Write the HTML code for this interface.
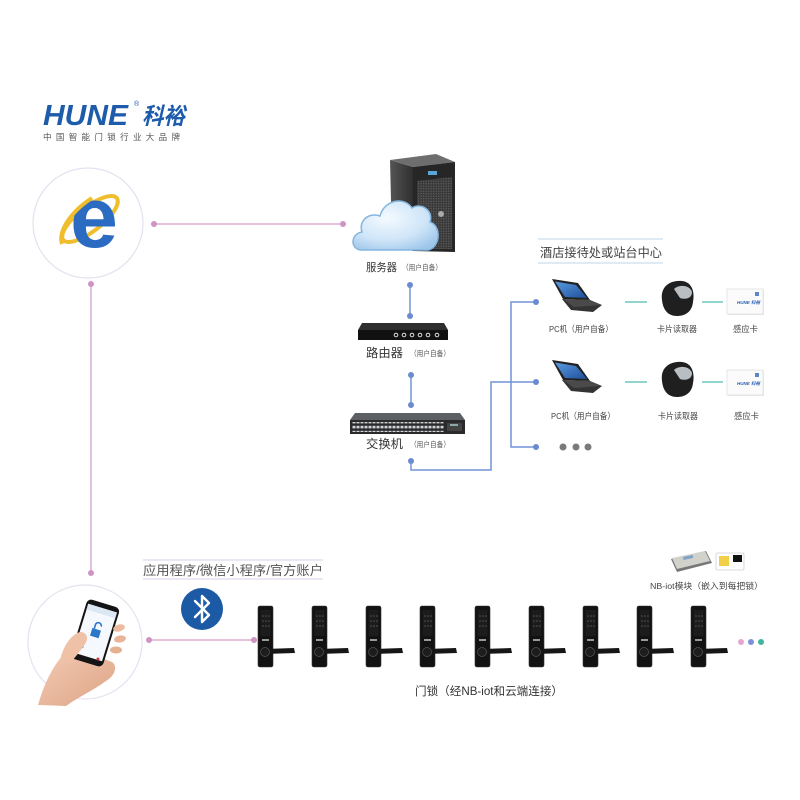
<!DOCTYPE html>
<html><head><meta charset="utf-8">
<style>
html,body{margin:0;padding:0;background:#fff;}
svg{display:block;}
text{font-family:"Liberation Sans","Noto Sans CJK SC",sans-serif;}
</style></head><body>
<svg width="800" height="800" viewBox="0 0 800 800" xmlns="http://www.w3.org/2000/svg">
<defs>
  <radialGradient id="cloudG" cx="0.4" cy="0.35" r="0.75">
    <stop offset="0" stop-color="#f4faff"/>
    <stop offset="0.6" stop-color="#cfe5f8"/>
    <stop offset="1" stop-color="#9cc6ea"/>
  </radialGradient>
  <linearGradient id="sideG" x1="0" y1="0" x2="1" y2="0">
    <stop offset="0" stop-color="#555"/>
    <stop offset="1" stop-color="#2f2f2f"/>
  </linearGradient>
  <linearGradient id="scrG" x1="0" y1="0" x2="1" y2="1">
    <stop offset="0" stop-color="#5a9be0"/>
    <stop offset="1" stop-color="#1e4f9a"/>
  </linearGradient>
  <pattern id="mesh" width="2.5" height="2.5" patternUnits="userSpaceOnUse">
    <rect width="2.5" height="2.5" fill="#3a3a3a"/>
    <circle cx="1.2" cy="1.2" r="0.6" fill="#666"/>
  </pattern>
  <pattern id="ports" width="4" height="5" patternUnits="userSpaceOnUse">
    <rect width="4" height="5" fill="#2a2a2a"/>
    <rect x="0.5" y="0.8" width="3" height="2.6" fill="#cfd3d8"/>
  </pattern>
  <linearGradient id="skin" x1="0" y1="0" x2="1" y2="1">
    <stop offset="0" stop-color="#f3cbb4"/>
    <stop offset="1" stop-color="#dea486"/>
  </linearGradient>
</defs>
<rect width="800" height="800" fill="#fff"/>

<!-- Logo -->
<text x="43" y="125" font-size="29" font-weight="bold" font-style="italic" fill="#1d5bab" textLength="85" lengthAdjust="spacingAndGlyphs">HUNE</text>
<text x="134" y="106" font-size="7" fill="#1d5bab">®</text>
<text x="142" y="124" font-size="23" font-weight="bold" font-style="italic" fill="#1d5bab" textLength="43" lengthAdjust="spacingAndGlyphs">科裕</text>
<text x="43" y="140" font-size="8.5" fill="#555" textLength="137" lengthAdjust="spacing">中国智能门锁行业大品牌</text>

<!-- IE circle -->
<circle cx="88" cy="223" r="55" fill="none" stroke="#e4e1ee" stroke-width="1.2"/>
<ellipse cx="90" cy="219" rx="34" ry="12" transform="rotate(-38 90 219)" fill="none" stroke="#f0be2c" stroke-width="4"/>
<text x="94" y="247" font-size="86" font-weight="bold" fill="#2b6cc2" text-anchor="middle">e</text>
<path d="M62,244 C58,232 70,212 92,198" fill="none" stroke="#f0be2c" stroke-width="4"/>

<!-- pink connectors -->
<g stroke="#dcaed3" stroke-width="1.5" fill="none">
  <line x1="154" y1="224" x2="343" y2="224"/>
  <line x1="91" y1="284" x2="91" y2="573"/>
  <line x1="149" y1="640" x2="254" y2="640"/>
</g>
<g fill="#cf94c4">
  <circle cx="154" cy="224" r="3"/><circle cx="343" cy="224" r="3"/>
  <circle cx="91" cy="284" r="3"/><circle cx="91" cy="573" r="3"/>
  <circle cx="149" cy="640" r="3"/><circle cx="254" cy="640" r="3"/>
</g>

<!-- Server tower -->
<polygon points="390,160 413,167 413,251 392,242" fill="url(#sideG)"/>
<polygon points="390,160 436,154 455,162 413,167" fill="#6e6e6e"/>
<polygon points="413,167 455,162 455,252 413,251" fill="#262626"/>
<polygon points="417,181 452,177 452,249 417,249" fill="url(#mesh)"/>
<rect x="428" y="171" width="9" height="4" fill="#5aa6d8"/>
<circle cx="441" cy="214" r="3" fill="#aaa"/>
<!-- Cloud -->
<path d="M362,250 C350,250 350,234 362,232 C358,220 370,212 380,216 C384,200 404,196 412,208 C420,202 434,210 430,222 C442,226 440,248 428,250 Z" fill="url(#cloudG)" stroke="#86b5df" stroke-width="1.5"/>
<text x="366" y="271" font-size="11" fill="#333" textLength="31" lengthAdjust="spacingAndGlyphs">服务器</text>
<text x="402" y="270" font-size="7.5" fill="#555" textLength="40" lengthAdjust="spacingAndGlyphs">（用户自备）</text>

<!-- blue connectors -->
<g stroke="#7094d8" stroke-width="1.5" fill="none">
  <line x1="410" y1="285" x2="410" y2="316"/>
  <line x1="411" y1="375" x2="411" y2="405"/>
  <path d="M411,461 V470 H491 V382 H536"/>
  <path d="M536,302 H511 V447 H536"/>
</g>
<g fill="#6a8ad2">
  <circle cx="410" cy="285" r="3"/><circle cx="410" cy="316" r="3"/>
  <circle cx="411" cy="375" r="3"/><circle cx="411" cy="405" r="3"/>
  <circle cx="411" cy="461" r="3"/>
  <circle cx="536" cy="302" r="3"/><circle cx="536" cy="382" r="3"/><circle cx="536" cy="447" r="3"/>
</g>

<!-- Router -->
<polygon points="362,323 444,323 448,330 358,330" fill="#2e2e2e"/>
<rect x="358" y="330" width="90" height="10" fill="#111"/>
<g fill="none" stroke="#ddd" stroke-width="1">
  <circle cx="396" cy="335" r="1.8"/><circle cx="404" cy="335" r="1.8"/><circle cx="412" cy="335" r="1.8"/>
  <circle cx="420" cy="335" r="1.8"/><circle cx="428" cy="335" r="1.8"/><circle cx="437" cy="335" r="1.8"/>
</g>
<text x="366" y="357" font-size="12" fill="#333" textLength="37" lengthAdjust="spacingAndGlyphs">路由器</text>
<text x="410" y="356" font-size="7.5" fill="#555" textLength="40" lengthAdjust="spacingAndGlyphs">（用户自备）</text>

<!-- Switch -->
<polygon points="355,413 460,413 465,420 350,420" fill="#5c5f63"/>
<rect x="350" y="420" width="115" height="14" fill="#2a2a2a"/>
<rect x="352" y="422" width="92" height="10" fill="url(#ports)"/>
<rect x="447" y="423" width="15" height="8" fill="#444"/>
<rect x="450" y="424" width="8" height="2" fill="#8aa"/>
<text x="366" y="448" font-size="12" fill="#333" textLength="37" lengthAdjust="spacingAndGlyphs">交换机</text>
<text x="410" y="447" font-size="7.5" fill="#555" textLength="40" lengthAdjust="spacingAndGlyphs">（用户自备）</text>

<!-- Hotel header -->
<line x1="538" y1="239" x2="663" y2="239" stroke="#bcd5e8" stroke-width="1"/>
<line x1="538" y1="263" x2="663" y2="263" stroke="#bcd5e8" stroke-width="1"/>
<text x="540" y="257" font-size="12.5" fill="#444" textLength="122" lengthAdjust="spacingAndGlyphs">酒店接待处或站台中心</text>

<!-- Row 1 -->
<g>
  <polygon points="552,279 578,283 590,300 563,299" fill="#222"/>
  <polygon points="555,281.5 576,285 587,298 565,297" fill="url(#scrG)"/>
  <polygon points="562,299 590,300 602,305 593,312 571,310" fill="#333"/>
  <polygon points="563,299 590,300 601,305 574,307" fill="#4a4a4a"/>
  <path d="M662,300 C660,285 672,280 682,281 C692,282 695,292 693,302 C692,312 685,316 677,316 C668,316 663,310 662,300 Z" fill="#1f1f1f"/>
  <path d="M674,289 C679,284 690,285 692,292 C692,298 686,300 680,298 Z" fill="#b9bec3"/>
  <rect x="728" y="290" width="36" height="25" fill="#e8e8e8"/>
  <rect x="727" y="289" width="36" height="25" fill="#fbfbfb" stroke="#e2e2e2" stroke-width="0.8"/>
  <text x="737" y="304" font-size="4.5" font-weight="bold" font-style="italic" fill="#2a5fb0">HUNE 科裕</text>
  <rect x="755" y="292" width="4" height="4" fill="#5b86c8"/>
</g>
<g transform="translate(0,81)">
  <polygon points="552,279 578,283 590,300 563,299" fill="#222"/>
  <polygon points="555,281.5 576,285 587,298 565,297" fill="url(#scrG)"/>
  <polygon points="562,299 590,300 602,305 593,312 571,310" fill="#333"/>
  <polygon points="563,299 590,300 601,305 574,307" fill="#4a4a4a"/>
  <path d="M662,300 C660,285 672,280 682,281 C692,282 695,292 693,302 C692,312 685,316 677,316 C668,316 663,310 662,300 Z" fill="#1f1f1f"/>
  <path d="M674,289 C679,284 690,285 692,292 C692,298 686,300 680,298 Z" fill="#b9bec3"/>
  <rect x="728" y="290" width="36" height="25" fill="#e8e8e8"/>
  <rect x="727" y="289" width="36" height="25" fill="#fbfbfb" stroke="#e2e2e2" stroke-width="0.8"/>
  <text x="737" y="304" font-size="4.5" font-weight="bold" font-style="italic" fill="#2a5fb0">HUNE 科裕</text>
  <rect x="755" y="292" width="4" height="4" fill="#5b86c8"/>
</g>
<g stroke="#6cc8bd" stroke-width="1.5">
  <line x1="625" y1="302" x2="647" y2="302"/><line x1="702" y1="302" x2="723" y2="302"/>
  <line x1="625" y1="382" x2="647" y2="382"/><line x1="702" y1="382" x2="723" y2="382"/>
</g>
<g font-size="8.5" fill="#444">
  <text x="549" y="332" textLength="64" lengthAdjust="spacingAndGlyphs">PC机（用户自备）</text>
  <text x="657" y="332" textLength="40" lengthAdjust="spacingAndGlyphs">卡片读取器</text>
  <text x="733" y="332" textLength="25" lengthAdjust="spacingAndGlyphs">感应卡</text>
  <text x="551" y="419" textLength="64" lengthAdjust="spacingAndGlyphs">PC机（用户自备）</text>
  <text x="658" y="419" textLength="40" lengthAdjust="spacingAndGlyphs">卡片读取器</text>
  <text x="734" y="419" textLength="25" lengthAdjust="spacingAndGlyphs">感应卡</text>
</g>
<g fill="#7a7a7a">
  <circle cx="563" cy="447" r="3.5"/><circle cx="576" cy="447" r="3.5"/><circle cx="588" cy="447" r="3.5"/>
</g>

<!-- App label -->
<line x1="143" y1="560" x2="323" y2="560" stroke="#d9cfe6" stroke-width="1"/>
<line x1="143" y1="579" x2="323" y2="579" stroke="#d9cfe6" stroke-width="1"/>
<text x="143" y="575" font-size="13" fill="#555" textLength="180" lengthAdjust="spacingAndGlyphs">应用程序/微信小程序/官方账户</text>

<!-- Bluetooth -->
<circle cx="202" cy="609" r="21" fill="#1c5aa5"/>
<path d="M195,601 L209,615 L202,622 L202,596 L209,603 L195,617" fill="none" stroke="#fff" stroke-width="2.4" stroke-linejoin="round" stroke-linecap="round"/>

<!-- Phone circle and hand -->
<circle cx="85" cy="642" r="57" fill="none" stroke="#e6e1ef" stroke-width="1.2"/>
<path d="M38,705 C44,684 52,668 62,656 C70,646 82,648 94,655 L112,662 C118,666 115,676 106,681 C94,690 80,696 66,706 Z" fill="url(#skin)"/>
<g transform="translate(95,633) rotate(17)">
  <rect x="-17" y="-31" width="34" height="62" rx="5" fill="#141414"/>
  <rect x="-15" y="-26" width="30" height="51" fill="#f5f8fc"/>
  <rect x="-15" y="-26" width="30" height="6" fill="#dce7f4"/>
  <rect x="-4" y="-4" width="9" height="8" fill="#2b78c8"/>
  <path d="M-2,-4 V-8 A3,3 0 0 1 4,-8" fill="none" stroke="#2b78c8" stroke-width="1.6"/>
  <rect x="-12" y="14" width="5" height="4" fill="#2b78c8"/>
</g>
<ellipse cx="119" cy="628" rx="6" ry="3.5" fill="#ecbba0" transform="rotate(-15 119 628)"/>
<ellipse cx="120" cy="639" rx="6" ry="3.5" fill="#e9b598" transform="rotate(-10 120 639)"/>
<ellipse cx="116" cy="650" rx="6" ry="3.5" fill="#e6b092"/>
<path d="M60,660 C64,644 72,634 80,632 C87,632 89,638 85,644 C80,652 74,658 70,664 Z" fill="#efc2a8"/>
<circle cx="98" cy="659" r="1.5" fill="#d23a3a"/>

<!-- Locks -->
<g id="locks">
<g transform="translate(258,606)">
  <rect x="0" y="0" width="15" height="61" rx="2" fill="#121212" stroke="#333" stroke-width="0.6"/>
  <rect x="2.5" y="4" width="10" height="26" fill="#1c1c1c"/>
  <g fill="#555"><circle cx="5" cy="10" r="0.8"/><circle cx="8" cy="10" r="0.8"/><circle cx="11" cy="10" r="0.8"/><circle cx="5" cy="15" r="0.8"/><circle cx="8" cy="15" r="0.8"/><circle cx="11" cy="15" r="0.8"/><circle cx="5" cy="20" r="0.8"/><circle cx="8" cy="20" r="0.8"/><circle cx="11" cy="20" r="0.8"/></g>
  <rect x="4" y="33" width="7" height="2" fill="#999"/>
  <path d="M7,43 L36,42 L37,47 L7,48 Z" fill="#161616"/>
  <circle cx="7" cy="46" r="4.5" fill="#1d1d1d" stroke="#555" stroke-width="0.7"/>
</g>
<g transform="translate(312,606)">
  <rect x="0" y="0" width="15" height="61" rx="2" fill="#121212" stroke="#333" stroke-width="0.6"/>
  <rect x="2.5" y="4" width="10" height="26" fill="#1c1c1c"/>
  <g fill="#555"><circle cx="5" cy="10" r="0.8"/><circle cx="8" cy="10" r="0.8"/><circle cx="11" cy="10" r="0.8"/><circle cx="5" cy="15" r="0.8"/><circle cx="8" cy="15" r="0.8"/><circle cx="11" cy="15" r="0.8"/><circle cx="5" cy="20" r="0.8"/><circle cx="8" cy="20" r="0.8"/><circle cx="11" cy="20" r="0.8"/></g>
  <rect x="4" y="33" width="7" height="2" fill="#999"/>
  <path d="M7,43 L36,42 L37,47 L7,48 Z" fill="#161616"/>
  <circle cx="7" cy="46" r="4.5" fill="#1d1d1d" stroke="#555" stroke-width="0.7"/>
</g>
<g transform="translate(366,606)">
  <rect x="0" y="0" width="15" height="61" rx="2" fill="#121212" stroke="#333" stroke-width="0.6"/>
  <rect x="2.5" y="4" width="10" height="26" fill="#1c1c1c"/>
  <g fill="#555"><circle cx="5" cy="10" r="0.8"/><circle cx="8" cy="10" r="0.8"/><circle cx="11" cy="10" r="0.8"/><circle cx="5" cy="15" r="0.8"/><circle cx="8" cy="15" r="0.8"/><circle cx="11" cy="15" r="0.8"/><circle cx="5" cy="20" r="0.8"/><circle cx="8" cy="20" r="0.8"/><circle cx="11" cy="20" r="0.8"/></g>
  <rect x="4" y="33" width="7" height="2" fill="#999"/>
  <path d="M7,43 L36,42 L37,47 L7,48 Z" fill="#161616"/>
  <circle cx="7" cy="46" r="4.5" fill="#1d1d1d" stroke="#555" stroke-width="0.7"/>
</g>
<g transform="translate(420,606)">
  <rect x="0" y="0" width="15" height="61" rx="2" fill="#121212" stroke="#333" stroke-width="0.6"/>
  <rect x="2.5" y="4" width="10" height="26" fill="#1c1c1c"/>
  <g fill="#555"><circle cx="5" cy="10" r="0.8"/><circle cx="8" cy="10" r="0.8"/><circle cx="11" cy="10" r="0.8"/><circle cx="5" cy="15" r="0.8"/><circle cx="8" cy="15" r="0.8"/><circle cx="11" cy="15" r="0.8"/><circle cx="5" cy="20" r="0.8"/><circle cx="8" cy="20" r="0.8"/><circle cx="11" cy="20" r="0.8"/></g>
  <rect x="4" y="33" width="7" height="2" fill="#999"/>
  <path d="M7,43 L36,42 L37,47 L7,48 Z" fill="#161616"/>
  <circle cx="7" cy="46" r="4.5" fill="#1d1d1d" stroke="#555" stroke-width="0.7"/>
</g>
<g transform="translate(475,606)">
  <rect x="0" y="0" width="15" height="61" rx="2" fill="#121212" stroke="#333" stroke-width="0.6"/>
  <rect x="2.5" y="4" width="10" height="26" fill="#1c1c1c"/>
  <g fill="#555"><circle cx="5" cy="10" r="0.8"/><circle cx="8" cy="10" r="0.8"/><circle cx="11" cy="10" r="0.8"/><circle cx="5" cy="15" r="0.8"/><circle cx="8" cy="15" r="0.8"/><circle cx="11" cy="15" r="0.8"/><circle cx="5" cy="20" r="0.8"/><circle cx="8" cy="20" r="0.8"/><circle cx="11" cy="20" r="0.8"/></g>
  <rect x="4" y="33" width="7" height="2" fill="#999"/>
  <path d="M7,43 L36,42 L37,47 L7,48 Z" fill="#161616"/>
  <circle cx="7" cy="46" r="4.5" fill="#1d1d1d" stroke="#555" stroke-width="0.7"/>
</g>
<g transform="translate(529,606)">
  <rect x="0" y="0" width="15" height="61" rx="2" fill="#121212" stroke="#333" stroke-width="0.6"/>
  <rect x="2.5" y="4" width="10" height="26" fill="#1c1c1c"/>
  <g fill="#555"><circle cx="5" cy="10" r="0.8"/><circle cx="8" cy="10" r="0.8"/><circle cx="11" cy="10" r="0.8"/><circle cx="5" cy="15" r="0.8"/><circle cx="8" cy="15" r="0.8"/><circle cx="11" cy="15" r="0.8"/><circle cx="5" cy="20" r="0.8"/><circle cx="8" cy="20" r="0.8"/><circle cx="11" cy="20" r="0.8"/></g>
  <rect x="4" y="33" width="7" height="2" fill="#999"/>
  <path d="M7,43 L36,42 L37,47 L7,48 Z" fill="#161616"/>
  <circle cx="7" cy="46" r="4.5" fill="#1d1d1d" stroke="#555" stroke-width="0.7"/>
</g>
<g transform="translate(583,606)">
  <rect x="0" y="0" width="15" height="61" rx="2" fill="#121212" stroke="#333" stroke-width="0.6"/>
  <rect x="2.5" y="4" width="10" height="26" fill="#1c1c1c"/>
  <g fill="#555"><circle cx="5" cy="10" r="0.8"/><circle cx="8" cy="10" r="0.8"/><circle cx="11" cy="10" r="0.8"/><circle cx="5" cy="15" r="0.8"/><circle cx="8" cy="15" r="0.8"/><circle cx="11" cy="15" r="0.8"/><circle cx="5" cy="20" r="0.8"/><circle cx="8" cy="20" r="0.8"/><circle cx="11" cy="20" r="0.8"/></g>
  <rect x="4" y="33" width="7" height="2" fill="#999"/>
  <path d="M7,43 L36,42 L37,47 L7,48 Z" fill="#161616"/>
  <circle cx="7" cy="46" r="4.5" fill="#1d1d1d" stroke="#555" stroke-width="0.7"/>
</g>
<g transform="translate(637,606)">
  <rect x="0" y="0" width="15" height="61" rx="2" fill="#121212" stroke="#333" stroke-width="0.6"/>
  <rect x="2.5" y="4" width="10" height="26" fill="#1c1c1c"/>
  <g fill="#555"><circle cx="5" cy="10" r="0.8"/><circle cx="8" cy="10" r="0.8"/><circle cx="11" cy="10" r="0.8"/><circle cx="5" cy="15" r="0.8"/><circle cx="8" cy="15" r="0.8"/><circle cx="11" cy="15" r="0.8"/><circle cx="5" cy="20" r="0.8"/><circle cx="8" cy="20" r="0.8"/><circle cx="11" cy="20" r="0.8"/></g>
  <rect x="4" y="33" width="7" height="2" fill="#999"/>
  <path d="M7,43 L36,42 L37,47 L7,48 Z" fill="#161616"/>
  <circle cx="7" cy="46" r="4.5" fill="#1d1d1d" stroke="#555" stroke-width="0.7"/>
</g>
<g transform="translate(691,606)">
  <rect x="0" y="0" width="15" height="61" rx="2" fill="#121212" stroke="#333" stroke-width="0.6"/>
  <rect x="2.5" y="4" width="10" height="26" fill="#1c1c1c"/>
  <g fill="#555"><circle cx="5" cy="10" r="0.8"/><circle cx="8" cy="10" r="0.8"/><circle cx="11" cy="10" r="0.8"/><circle cx="5" cy="15" r="0.8"/><circle cx="8" cy="15" r="0.8"/><circle cx="11" cy="15" r="0.8"/><circle cx="5" cy="20" r="0.8"/><circle cx="8" cy="20" r="0.8"/><circle cx="11" cy="20" r="0.8"/></g>
  <rect x="4" y="33" width="7" height="2" fill="#999"/>
  <path d="M7,43 L36,42 L37,47 L7,48 Z" fill="#161616"/>
  <circle cx="7" cy="46" r="4.5" fill="#1d1d1d" stroke="#555" stroke-width="0.7"/>
</g>
</g>

<!-- trailing dots -->
<circle cx="741" cy="642" r="3" fill="#e7a6cf"/>
<circle cx="751" cy="642" r="3" fill="#7f8fdc"/>
<circle cx="761" cy="642" r="3" fill="#3fb79a"/>

<!-- NB-iot module -->
<polygon points="671,559 706,551 712,563 677,572" fill="#777"/>
<polygon points="672,558 705,551 710,561 677,569" fill="#d2d2cc"/>
<rect x="683" y="556" width="10" height="3" fill="#7fa3c8" transform="rotate(-12 688 557)"/>
<rect x="716" y="553" width="28" height="17" rx="1.5" fill="#fff" stroke="#cfcfcf" stroke-width="0.8"/>
<rect x="719" y="556" width="10" height="10" fill="#f1cf48"/>
<rect x="733" y="555" width="9" height="7" fill="#111"/>
<text x="650" y="589" font-size="8.5" fill="#444" textLength="113" lengthAdjust="spacingAndGlyphs">NB-iot模块（嵌入到每把锁）</text>

<text x="415" y="695" font-size="11.5" fill="#333" textLength="148" lengthAdjust="spacingAndGlyphs">门锁（经NB-iot和云端连接）</text>
</svg>
</body></html>
